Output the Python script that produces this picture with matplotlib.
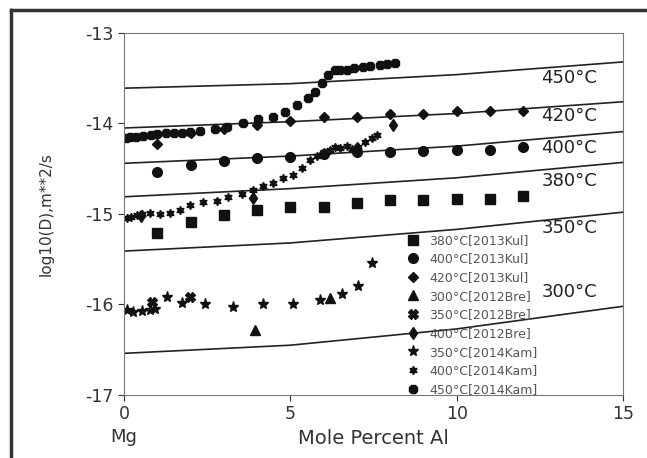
import matplotlib.pyplot as plt
from matplotlib.lines import Line2D

plt.rcParams['font.family'] = ['DejaVu Sans']
plt.rcParams['axes.unicode_minus'] = False

# model curves (log10 D vs mole percent Al)
curve_x = [0, 5, 10, 15]
curve_450 = [-13.61, -13.56, -13.46, -13.32]
curve_420 = [-14.05, -13.98, -13.89, -13.76]
curve_400 = [-14.44, -14.36, -14.25, -14.09]
curve_380 = [-14.81, -14.72, -14.60, -14.43]
curve_350 = [-15.41, -15.32, -15.17, -14.98]
curve_300 = [-16.54, -16.45, -16.27, -16.02]
curve_labels = ["450\u00b0C", "420\u00b0C", "400\u00b0C", "380\u00b0C", "350\u00b0C", "300\u00b0C"]
label_y = [-13.50, -13.92, -14.27, -14.64, -15.15, -15.86]

# experimental data
kul_x = [1, 2, 3, 4, 5, 6, 7, 8, 9, 10, 11, 12]
kul_380 = [-15.21, -15.09, -15.01, -14.96, -14.92, -14.92, -14.88, -14.85, -14.85, -14.83, -14.83, -14.80]
kul_400 = [-14.54, -14.46, -14.41, -14.38, -14.37, -14.34, -14.31, -14.31, -14.30, -14.29, -14.29, -14.26]
kul_420 = [-14.23, -14.10, -14.06, -14.02, -13.97, -13.93, -13.93, -13.90, -13.89, -13.86, -13.86, -13.86]

bre300_x = [3.94, 6.19]
bre300_y = [-16.28, -15.93]
bre350_x = [0.84, 1.98]
bre350_y = [-15.97, -15.92]
bre400_x = [0.5, 3.88, 7.0, 8.09]
bre400_y = [-15.02, -14.82, -14.27, -14.02]

kam350_x = [0.08, 0.27, 0.54, 0.78, 0.93, 1.29, 1.74, 2.43, 3.28, 4.18, 5.08, 5.89, 6.55, 7.03, 7.45]
kam350_y = [-16.06, -16.08, -16.07, -16.06, -16.05, -15.92, -15.98, -16.00, -16.03, -16.00, -16.00, -15.95, -15.88, -15.80, -15.54]

kam400_x = [0.08, 0.2, 0.38, 0.55, 0.78, 1.08, 1.38, 1.68, 1.98, 2.37, 2.79, 3.13, 3.55, 3.88,
            4.18, 4.48, 4.78, 5.08, 5.35, 5.6, 5.8, 6.0, 6.18, 6.34, 6.5, 6.7, 6.85, 7.03, 7.24, 7.45, 7.6]
kam400_y = [-15.04, -15.03, -15.01, -15.00, -14.99, -15.00, -14.99, -14.96, -14.90, -14.87, -14.86, -14.81, -14.78, -14.73,
            -14.69, -14.66, -14.60, -14.57, -14.49, -14.40, -14.36, -14.31, -14.29, -14.26, -14.27, -14.25, -14.28, -14.26, -14.20, -14.16, -14.13]

kam450_x = [0.05, 0.18, 0.35, 0.57, 0.8, 1.0, 1.25, 1.5, 1.75, 1.98, 2.28, 2.74, 3.10, 3.58, 4.03, 4.48, 4.84,
            5.20, 5.53, 5.74, 5.95, 6.13, 6.34, 6.5, 6.7, 6.9, 7.18, 7.4, 7.69, 7.9, 8.15]
kam450_y = [-14.16, -14.15, -14.15, -14.14, -14.13, -14.12, -14.11, -14.11, -14.10, -14.09, -14.08, -14.06, -14.04, -13.99, -13.95, -13.93, -13.87,
            -13.80, -13.72, -13.65, -13.55, -13.46, -13.41, -13.41, -13.41, -13.39, -13.38, -13.37, -13.35, -13.34, -13.33]

fig = plt.figure(figsize=(6.47, 4.58), dpi=100)
ax = fig.add_axes([0.1917, 0.1376, 0.7713, 0.7904])

for cy in [curve_450, curve_420, curve_400, curve_380, curve_350, curve_300]:
    ax.plot(curve_x, cy, color="#222222", lw=1.2)
for lab, ly in zip(curve_labels, label_y):
    ax.text(12.55, ly, lab, fontsize=13, color="#222222", va="center", ha="left")

k = "#111111"
ax.plot(kul_x, kul_380, "s", color=k, ms=6.5, ls="none", label="380\u00b0C[2013Kul]")
ax.plot(kul_x, kul_400, "o", color=k, ms=7, ls="none", label="400\u00b0C[2013Kul]")
ax.plot(kul_x, kul_420, "D", color=k, ms=5.5, ls="none", label="420\u00b0C[2013Kul]")
ax.plot(bre300_x, bre300_y, "^", color=k, ms=7, ls="none", label="300\u00b0C[2012Bre]")
ax.plot(bre350_x, bre350_y, "X", color=k, ms=7, ls="none", label="350\u00b0C[2012Bre]")
ax.plot(bre400_x, bre400_y, "d", color=k, ms=6, ls="none", label="400\u00b0C[2012Bre]")
ax.plot(kam350_x, kam350_y, "*", color=k, ms=8, ls="none", label="350\u00b0C[2014Kam]")
ax.plot(kam400_x, kam400_y, marker=(6, 1, 0), color=k, ms=6, ls="none", label="400\u00b0C[2014Kam]")
ax.plot(kam450_x, kam450_y, "8", color=k, ms=7, ls="none", label="450\u00b0C[2014Kam]")

ax.set_xlim(0, 15)
ax.set_ylim(-17, -13)
ax.set_xticks([0, 5, 10, 15])
ax.set_yticks([-17, -16, -15, -14, -13])
ax.tick_params(labelsize=12.5, colors="#333333", length=4, width=0.8)
for s in ax.spines.values():
    s.set_color("#777777")
    s.set_linewidth(0.8)

ax.set_ylabel("log10(D),m**2/s", fontsize=11, color="#333333", labelpad=23)
ax.set_xlabel("Mole Percent Al", fontsize=14, color="#333333", labelpad=4)
ax.text(0, -17.46, "Mg", fontsize=13, color="#333333", ha="center", va="center")

leg = ax.legend(loc="upper left", bbox_to_anchor=(0.567, 0.445), frameon=False,
                fontsize=9, handlelength=1.0, handletextpad=0.8, labelspacing=0.45,
                borderpad=0, borderaxespad=0)
for t in leg.get_texts():
    t.set_color("#555555")

# outer frame lines of the screenshot
fig.add_artist(Line2D([0.017, 0.017], [0.0, 0.978], color="#333333", lw=2.5))
fig.add_artist(Line2D([0.017, 1.0], [0.978, 0.978], color="#333333", lw=2.5))

fig.savefig("out.png", dpi=100)
